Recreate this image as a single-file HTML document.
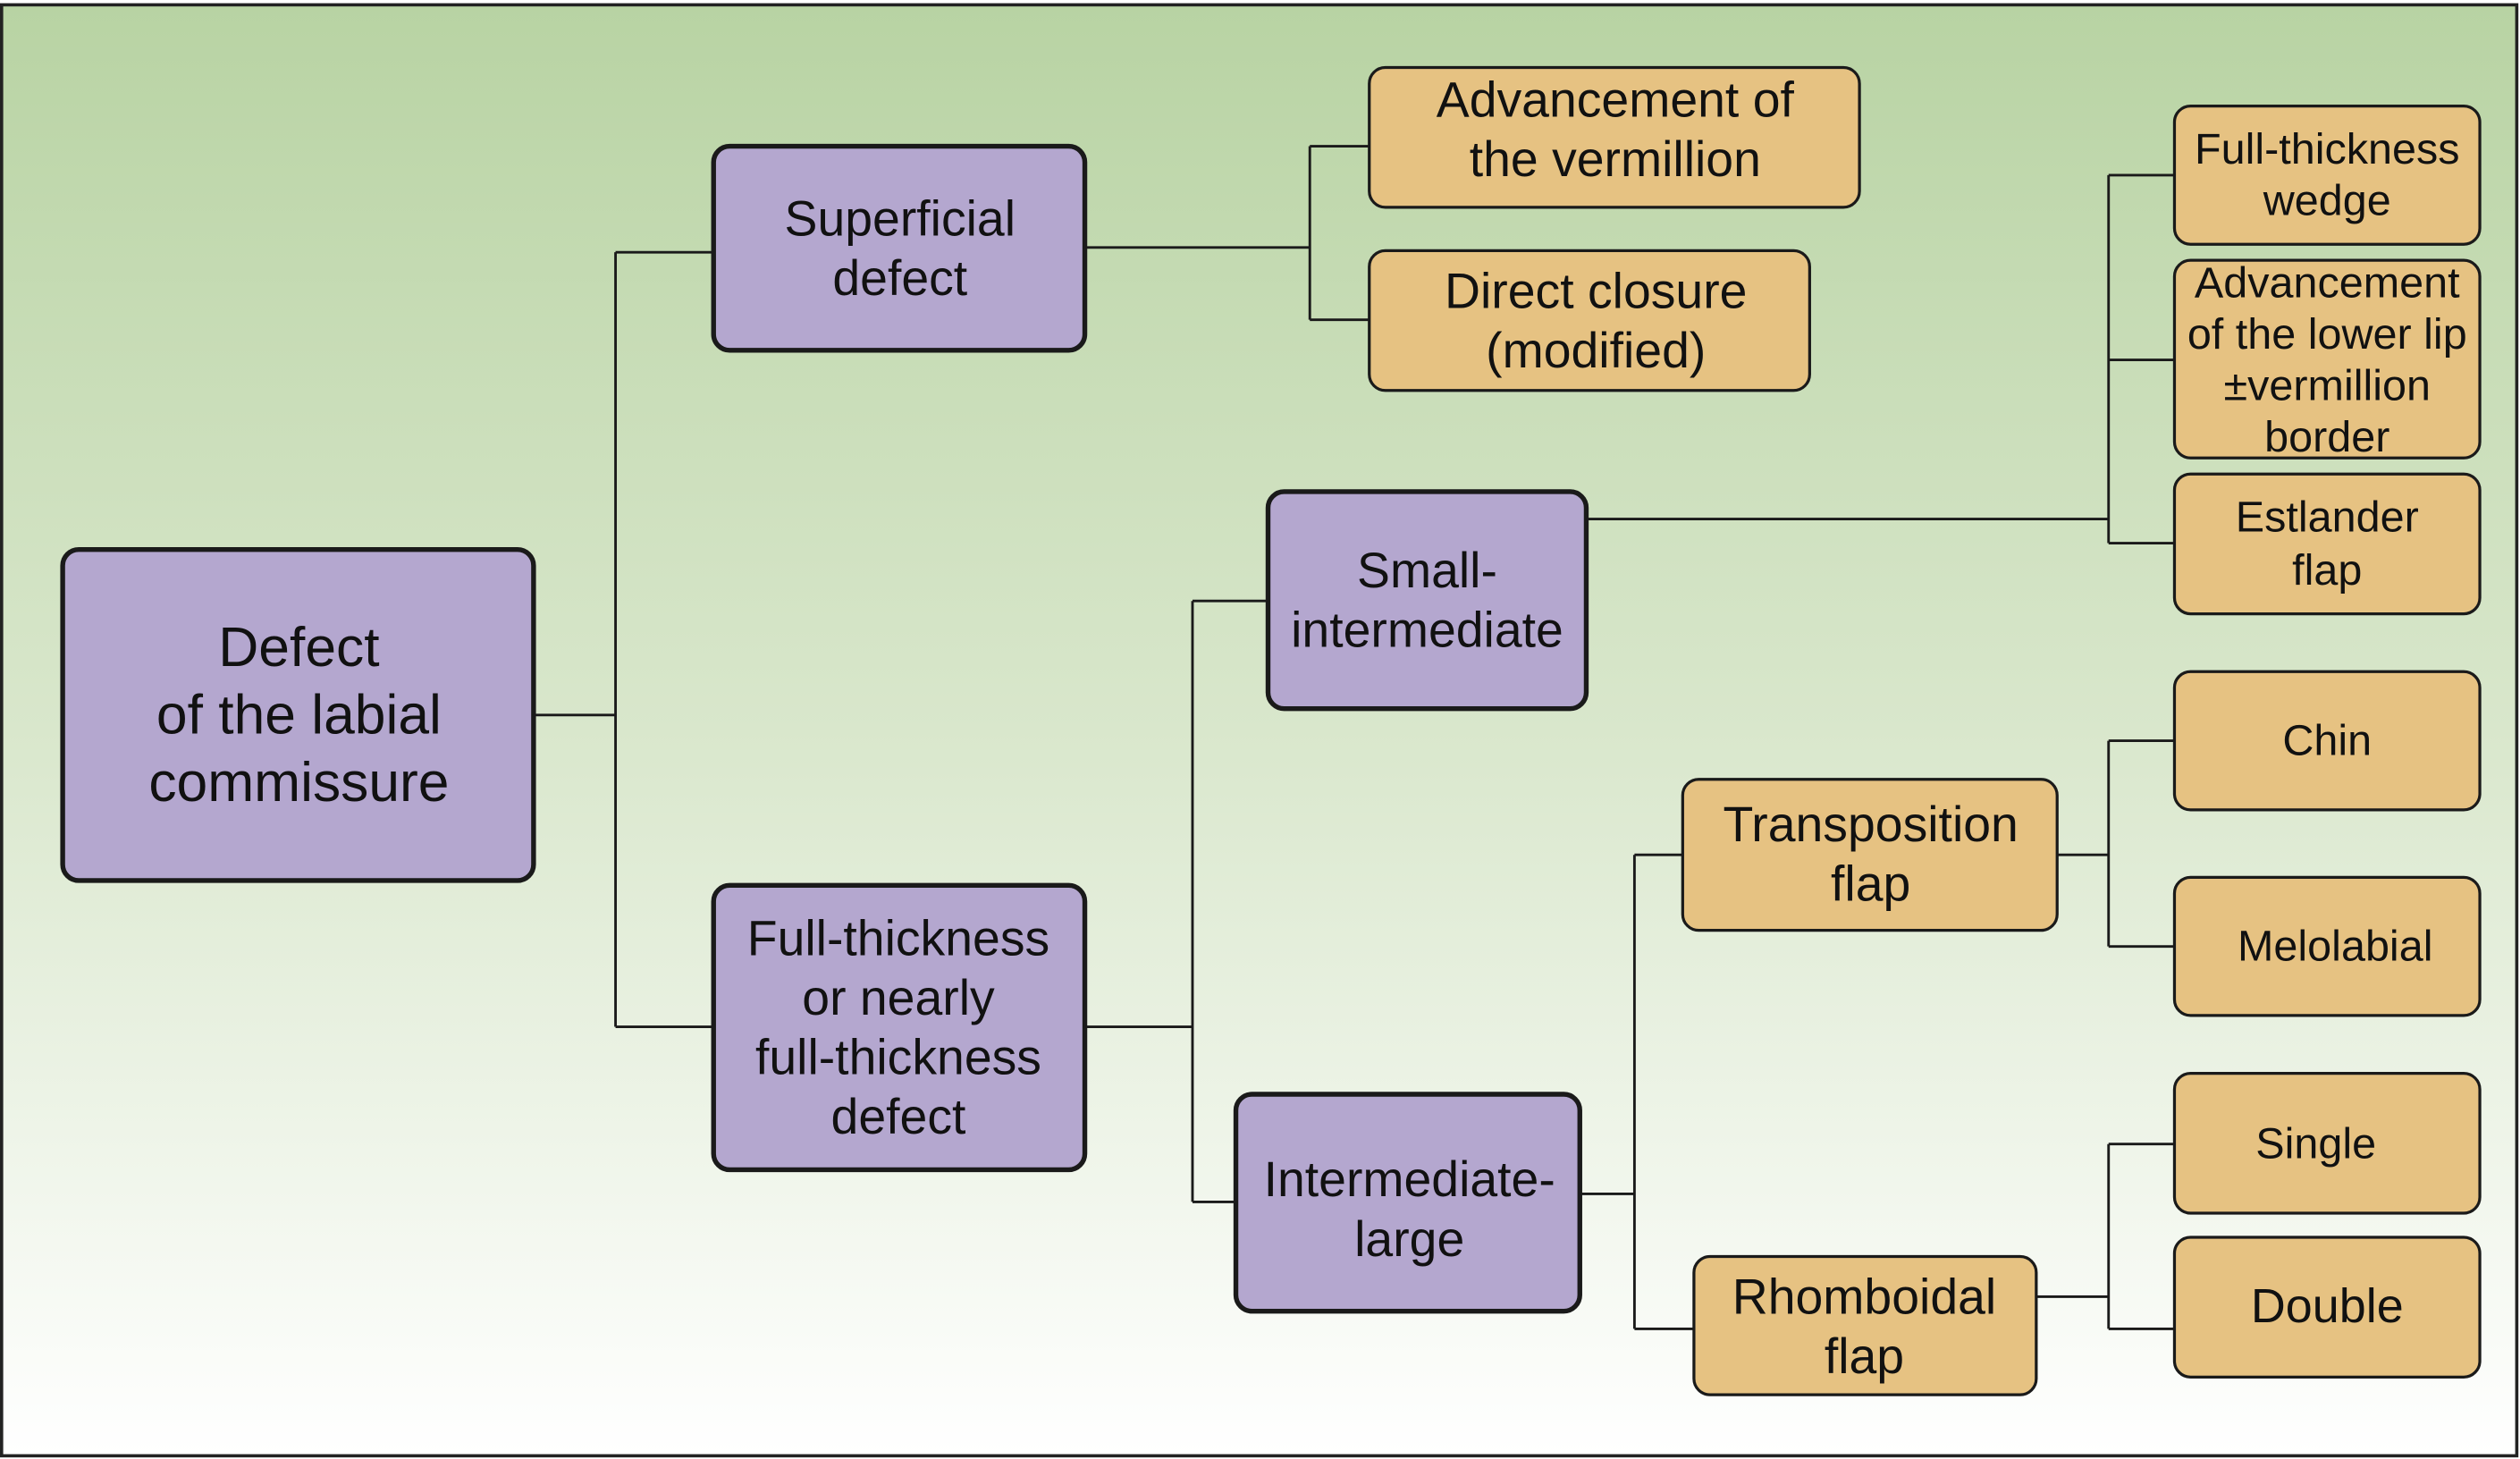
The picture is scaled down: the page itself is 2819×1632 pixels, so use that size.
<!DOCTYPE html>
<html><head><meta charset="utf-8"><style>
html,body{margin:0;padding:0;background:#fff;}
svg{display:block;}
text{font-family:"Liberation Sans",Arial,sans-serif;fill:#111;text-anchor:middle;dominant-baseline:central;}
</style></head><body>
<svg width="2819" height="1632" viewBox="0 0 1568 908" preserveAspectRatio="none" xmlns="http://www.w3.org/2000/svg">
<defs><linearGradient id="g" x1="0" y1="0" x2="0" y2="1">
<stop offset="0" stop-color="#b8d3a3"/><stop offset="0.5" stop-color="#d9e7cc"/><stop offset="1" stop-color="#ffffff"/></linearGradient></defs>
<rect x="1" y="3" width="1565" height="903" fill="url(#g)" stroke="#222" stroke-width="2"/>
<g stroke="#1a1a1a" stroke-width="1.6" fill="none">
<path d="M332 445H383M383 157V639M383 157H444M383 639H444"/>
<path d="M675 154H815M815 91V199M815 91H852M815 199H852"/>
<path d="M675 639H742M742 374V748M742 374H789M742 748H769"/>
<path d="M987 323H1312M1312 109V338M1312 109H1353M1312 224H1353M1312 338H1353"/>
<path d="M983 743H1017M1017 532V827M1017 532H1047M1017 827H1054"/>
<path d="M1280 532H1312M1312 461V589M1312 461H1353M1312 589H1353"/>
<path d="M1267 807H1312M1312 712V827M1312 712H1353M1312 827H1353"/>
</g>
<g fill="#b4a7cf" stroke="#1a1a1a" stroke-width="3">
<rect x="39" y="342" width="293" height="206" rx="10"/>
<rect x="444" y="91" width="231" height="127" rx="10"/>
<rect x="444" y="551" width="231" height="177" rx="10"/>
<rect x="789" y="306" width="198" height="135" rx="10"/>
<rect x="769" y="681" width="214" height="135" rx="10"/>
</g>
<g fill="#e6c282" stroke="#1a1a1a" stroke-width="1.8">
<rect x="852" y="42" width="305" height="87" rx="10"/>
<rect x="852" y="156" width="274" height="87" rx="10"/>
<rect x="1353" y="66" width="190" height="86" rx="10"/>
<rect x="1353" y="162" width="190" height="123" rx="10"/>
<rect x="1353" y="295" width="190" height="87" rx="10"/>
<rect x="1047" y="485" width="233" height="94" rx="10"/>
<rect x="1353" y="418" width="190" height="86" rx="10"/>
<rect x="1353" y="546" width="190" height="86" rx="10"/>
<rect x="1054" y="782" width="213" height="86" rx="10"/>
<rect x="1353" y="668" width="190" height="87" rx="10"/>
<rect x="1353" y="770" width="190" height="87" rx="10"/>
</g>
<g font-size="34.7"><text x="186" y="403">Defect</text><text x="186" y="445">of the labial</text><text x="186" y="487">commissure</text></g>
<g font-size="30.8">
<text x="560" y="136">Superficial</text><text x="560" y="173">defect</text>
<text x="559" y="584">Full-thickness</text><text x="559" y="621">or nearly</text><text x="559" y="658">full-thickness</text><text x="559" y="695">defect</text>
<text x="888" y="355">Small-</text><text x="888" y="392">intermediate</text>
<text x="877" y="734">Intermediate-</text><text x="877" y="771">large</text>
<text x="1005" y="62">Advancement of</text><text x="1005" y="99">the vermillion</text>
<text x="993" y="181">Direct closure</text><text x="993" y="218">(modified)</text>
<text x="1164" y="513">Transposition</text><text x="1164" y="550">flap</text>
<text x="1160" y="807">Rhomboidal</text><text x="1160" y="844">flap</text>
<text x="1448" y="813" font-size="30">Double</text>
</g>
<g font-size="27">
<text x="1448" y="93">Full-thickness</text><text x="1448" y="125">wedge</text>
<text x="1448" y="176">Advancement</text><text x="1448" y="208">of the lower lip</text><text x="1448" y="240">±vermillion</text><text x="1448" y="272">border</text>
<text x="1448" y="322">Estlander</text><text x="1448" y="355">flap</text>
<text x="1448" y="461">Chin</text>
<text x="1453" y="589">Melolabial</text>
<text x="1441" y="712">Single</text>
</g>
</svg>
</body></html>
